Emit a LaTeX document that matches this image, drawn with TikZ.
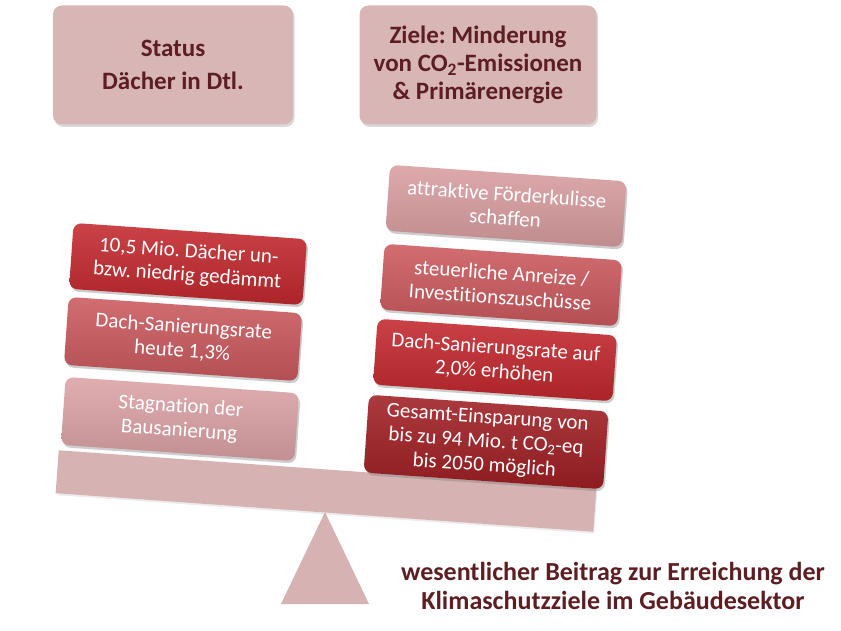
\documentclass[tikz,border=0pt]{standalone}
\usepackage{fontspec}
\setmainfont{Carlito}[Ligatures=NoCommon]
\frenchspacing
\usetikzlibrary{positioning, shadows}

\definecolor{braun}{HTML}{5C1E22}
\definecolor{rosa}{HTML}{D9B6B6}
\definecolor{waage}{HTML}{D6B2B2}
\definecolor{rot1}{HTML}{C3292E}
\definecolor{rot2}{HTML}{CA5A5F}
\definecolor{rot3}{HTML}{DCA3A6}
\definecolor{rot4}{HTML}{DA9EA1}
\definecolor{rot5}{HTML}{CC5A5F}
\definecolor{rot6}{HTML}{C2282D}
\definecolor{rot7}{HTML}{A01F24}

\tikzset{
  kopf/.style={fill=rosa, rounded corners=9pt, minimum width=240pt, minimum height=119pt,
    text=braun, align=center, font=\fontsize{25}{28}\selectfont\bfseries,
    drop shadow={opacity=0.3, shadow xshift=1.5pt, shadow yshift=-2.5pt}},
  stein/.style={rounded corners=8pt, minimum width=234pt, minimum height=66pt,
    text=white, align=center, font=\fontsize{21}{24}\selectfont, rotate=-4,
    drop shadow={opacity=0.4, shadow xshift=1.5pt, shadow yshift=-2.5pt}},
  dunkel/.style={top color=#1!88!white, bottom color=#1!88!black},
}

\begin{document}
\begin{tikzpicture}[x=1pt, y=-1pt]
    \useasboundingbox (0,0) rectangle (841,631);

    % Kopfzeile
    \node[kopf] (status) at (173,65) {Status\\[5pt]Dächer in Dtl.};
    \node[kopf, minimum width=237pt] (ziele) at (478,65)
        {Ziele: Minderung\\von CO\textsubscript{2}-Emissionen\\\& Primärenergie};

    % Waage
    \fill[waage] (325,512) -- (369,604) -- (281,604) -- cycle;
    \node[fill=waage, rotate=-4.1, minimum width=539pt, minimum height=43pt,
        drop shadow={opacity=0.15, shadow xshift=1pt, shadow yshift=-2pt}] (balken) at (326,491) {};

    % linke Seite
    \node[stein, dunkel=rot1] (daecher) at (188,264) {10,5 Mio. Dächer un-\\bzw. niedrig gedämmt};
    \node[stein, dunkel=rot2, minimum height=68pt] (rateheute) at (183,339) {Dach-Sanierungsrate\\heute 1,3\%};
    \node[stein, dunkel=rot3, minimum height=68pt] (stagnation) at (180,419) {Stagnation der\\Bausanierung};

    % rechte Seite
    \node[stein, dunkel=rot4, minimum width=237pt] (foerderung) at (506,206) {attraktive Förderkulisse\\schaffen};
    \node[stein, dunkel=rot5, minimum width=238pt] (anreize) at (501,285) {steuerliche Anreize /\\Investitionszuschüsse};
    \node[stein, dunkel=rot6, minimum width=240pt] (rateziel) at (495,360) {Dach-Sanierungsrate auf\\2,0\% erhöhen};
    \node[stein, dunkel=rot7, minimum width=240pt, minimum height=78pt, inner ysep=2pt]
        (einsparung) at (486,442) {Gesamt-Einsparung von\\bis zu 94 Mio. t CO\textsubscript{2}-eq\\bis 2050 möglich};

    % Fazit
    \node[text=braun, align=center, font=\fontsize{26}{29}\selectfont\bfseries] (beitrag) at (613,586)
        {wesentlicher Beitrag zur Erreichung der\\Klimaschutzziele im Gebäudesektor};
\end{tikzpicture}
\end{document}
